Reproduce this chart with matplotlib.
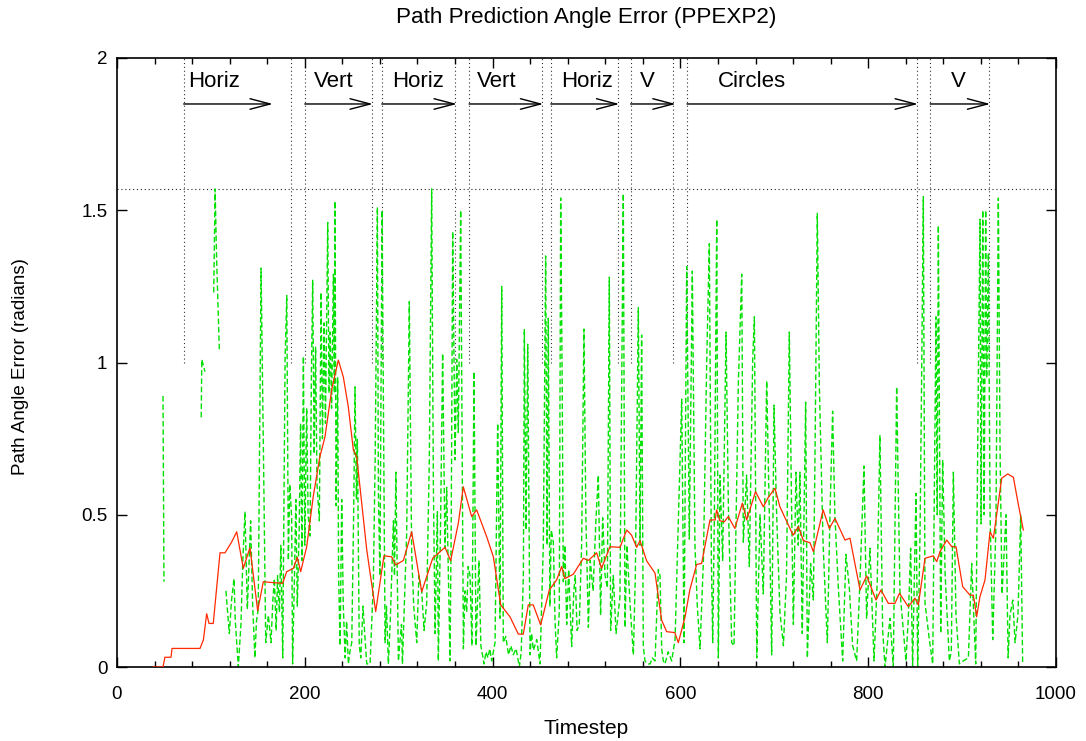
import matplotlib
matplotlib.use('Agg')
import matplotlib.pyplot as plt
import numpy as np
from matplotlib.ticker import MultipleLocator, FixedLocator, FuncFormatter

plt.rcParams['font.family'] = ['Liberation Sans', 'DejaVu Sans']

NaN = np.nan

# ---- smoothed error (red) ----
red_t = [38.7, 49, 51, 57.5, 58.6, 79.5, 88.4, 92, 95.5, 98, 102.5, 109.7, 115, 122, 127.5,
         134.5, 141.6, 149.8, 155.8, 166.5, 176.4, 180.7, 187.8, 192, 195.6, 202, 209, 216,
         221.5, 228.6, 235.7, 241, 246.3, 251.7, 255.3, 266, 275.5, 284.3, 292.5, 296.8, 305,
         313.8, 324.5, 336.2, 349.3, 355.3, 363.5, 368.8, 377.7, 383, 393.7, 400.8, 408.6,
         418.5, 427.4, 432.7, 438, 443.3, 451.2, 460.4, 468.2, 473.6, 477, 486, 496.6, 502,
         510.8, 516, 525, 535.7, 542.8, 548, 553.4, 557, 564, 573, 580, 585.4, 594, 597.8,
         605, 610, 617.3, 622.6, 631.5, 637, 638.6, 642, 646.8, 651, 658, 666, 670.6, 680,
         688.3, 693.6, 700.7, 706, 715, 720, 725.6, 731, 738, 741.6, 752, 758.6, 764.6,
         775.3, 780.6, 791.3, 798.4, 808.3, 813.6, 821.4, 828.5, 833.3, 842.7, 849.8, 853.4,
         860.5, 869.3, 873, 876.5, 883.6, 889, 893.5, 900.6, 908.4, 912, 915.5, 919, 924.4,
         929.7, 933.3, 942.2, 948.6, 954.6, 960, 965.2]
red_v = [0.0, 0.0, 0.032, 0.032, 0.061, 0.061, 0.061, 0.089, 0.175, 0.143, 0.143, 0.375, 0.375,
         0.41, 0.444, 0.324, 0.392, 0.185, 0.28, 0.277, 0.275, 0.313, 0.324, 0.36, 0.313,
         0.395, 0.56, 0.69, 0.756, 0.91, 1.008, 0.953, 0.855, 0.713, 0.69, 0.384, 0.182,
         0.365, 0.362, 0.335, 0.35, 0.444, 0.247, 0.357, 0.393, 0.349, 0.472, 0.592, 0.494,
         0.516, 0.428, 0.362, 0.204, 0.165, 0.108, 0.108, 0.204, 0.204, 0.138, 0.253, 0.286,
         0.33, 0.29, 0.305, 0.357, 0.35, 0.375, 0.324, 0.395, 0.393, 0.45, 0.433, 0.393,
         0.415, 0.349, 0.308, 0.154, 0.116, 0.113, 0.08, 0.165, 0.253, 0.337, 0.34, 0.483,
         0.483, 0.516, 0.48, 0.477, 0.494, 0.455, 0.538, 0.483, 0.576, 0.526, 0.557, 0.587,
         0.526, 0.466, 0.433, 0.461, 0.415, 0.408, 0.379, 0.516, 0.455, 0.488, 0.417, 0.423,
         0.253, 0.299, 0.22, 0.253, 0.209, 0.209, 0.242, 0.198, 0.226, 0.204, 0.357, 0.365,
         0.346, 0.379, 0.417, 0.395, 0.395, 0.264, 0.236, 0.236, 0.165, 0.231, 0.286, 0.444,
         0.423, 0.62, 0.634, 0.623, 0.532, 0.45]

# ---- raw error (green, dashed); NaN = no value ----
green_t = [49, 50, 51, 89.7, 90.3, 93.7, 95, 103, 104.5, 106, 109, 110,
           116, 119.6, 122, 124.6, 126, 129.2, 132, 134, 136.3, 138.8, 140.5, 142.3, 144.5,
           146.9, 148.5, 150.4, 153.4, 155.9, 158.4, 161.2, 164, 166, 167.6, 169.5, 171, 173,
           174.5, 176.5, 179, 180.8, 182.5, 184, 186, 187, 189, 190.5, 192, 194, 195.5, 197,
           198.5, 200, 202, 203.5, 205.6, 207, 208.4, 210, 211.5, 213, 215.5, 217.3, 218.8,
           220.5, 222, 224.4, 225.8, 227, 228.5, 230.5, 231.5, 232.2, 233.3, 235, 236, 237.6,
           239.3, 241, 243, 244.5, 246.4, 248, 250, 252, 253.5, 255, 256, 258, 259.6, 262, 264,
           266, 269.5, 273, 275, 277.3, 278.4, 280, 282.3, 283.7, 285.5, 287, 289, 291, 294.4,
           295.5, 297, 299.7, 301.5, 303, 304, 306, 308.5, 311.3, 313.8, 316, 319.2, 321.5,
           324.5, 327, 329.8, 332.6, 335.1, 336.9, 338.7, 341.2, 342.2, 344.5, 346.8, 349.3,
           351.1, 354.7, 356, 357.5, 360, 361.8, 363.5, 366, 368.9, 370.5, 372.4, 374, 376, 378,
           380.2, 382.3, 385.5, 387.5, 390.9, 393, 395, 397, 399, 402.6, 405.4, 407.9, 409.7,
           411.4, 414, 417, 419.5, 422, 425, 428.5, 430.5, 432.8, 433.8, 435.6, 437.4, 439.9,
           441.5, 443.4, 447, 450.5, 454, 456.5, 458, 459.3, 461, 462.5, 464.7, 466.5, 468.2,
           471, 472.5, 474.2, 475.3, 477, 478.9, 481, 484.2, 486.5, 488, 490, 492.3, 494.8,
           497.3, 499.3, 502, 504, 507, 510, 512.6, 515, 517.2, 519.8, 522.2, 524.3, 525.7,
           528.5, 531.5, 535.6, 539.2, 541, 543, 546.5, 549.9, 552, 555.2, 557, 558.7, 560.5,
           562.3, 565, 567.8, 570, 573, 576.5, 578.3, 580.1, 581.8, 583.6, 587, 590.7, 594.3,
           597.8, 601.4, 603.9, 606.7, 609.5, 612.7, 615.5, 618, 620.9, 624.5, 628, 630.8, 633,
           634.4, 636.2, 638.7, 640.4, 642.2, 645, 648.6, 651.1, 654.6, 657.1, 661.7, 665.3,
           667, 670.5, 673.4, 677, 678.8, 681.3, 684.8, 688.3, 691.9, 694.7, 697.2, 699.7,
           702.5, 706, 709.7, 713, 716, 718.5, 720.3, 723.1, 725.5, 727.3, 729.8, 733.4, 735.2,
           738.7, 741.6, 743.3, 745.8, 748, 752, 756.5, 759.3, 762.1, 764.5, 768.2, 772.8,
           776.3, 779.9, 783.4, 787.7, 791.2, 795.5, 798.3, 801.9, 806.2, 809.6, 812.5, 815.4,
           817.9, 823.2, 826.7, 830.3, 833.8, 840.2, 842.7, 845.2, 847.3, 850.9, 852.7, 855.2,
           856.9, 858.7, 860.5, 865.1, 868.7, 872.2, 873.5, 874.7, 877.2, 879.3, 882, 886.4,
           888.5, 890.7, 893.5, 897.1, 901.2, 906.7, 910.2, 914.5, 917.3, 919.1, 920.2, 922,
           923.5, 925.1, 926.2, 928, 929.8, 932.6, 936, 938.6, 940.4, 942.5, 946.8, 949, 951,
           954, 956.4, 959.5, 962.4, 964.5]
green_v = [0.89, 0.28, NaN, 0.82, 1.01, 0.97, NaN, 1.23, 1.57, 1.35, 1.04, NaN,
           0.25, 0.11, 0.22, 0.29, 0.15, 0.0, 0.14, 0.35, 0.51, 0.19, 0.33, 0.48, 0.2,
           0.03, 0.15, 0.19, 1.31, 0.72, 0.08, 0.17, 0.08, 0.22, 0.29, 0.12, 0.30, 0.18,
           0.4, 0.03, 1.01, 1.22, 0.35, 0.6, 0.49, 0.01, 0.3, 0.55, 0.2, 0.45, 0.8, 0.35,
           1.02, 0.4, 0.85, 0.5, 0.43, 0.95, 1.27, 0.7, 1.05, 0.6, 0.48, 1.23, 0.75,
           1.13, 0.8, 1.46, 0.9, 1.10, 0.85, 1.29, 0.9, 1.53, 0.53, 0.95, 0.3, 0.07,
           0.55, 0.2, 0.03, 0.15, 0.01, 0.05, 0.08, 0.5, 0.92, 0.55, 0.75, 0.07, 0.03, 0.2, 0.1,
           0.01, 0.01, 0.28, 0.7, 1.51, 0.57, 0.3, 1.50, 0.89, 0.08, 0.2, 0.01, 0.15, 0.48,
           0.3, 0.64, 0.02, 0.09, 0.14, 0.01, 0.2, 0.44, 1.20, 0.38, 0.2, 0.08, 0.3,
           0.25, 0.12, 0.21, 0.68, 1.57, 0.61, 0.11, 0.51, 0.02, 0.45, 1.03, 0.39,
           0.59, 0.02, 0.5, 1.43, 0.68, 1.01, 0.77, 1.50, 0.06, 0.25, 0.18, 0.33, 0.30, 0.07,
           0.97, 0.07, 0.35, 0.07, 0.01, 0.05, 0.03, 0.06, 0.02, 0.08, 0.80, 0.16, 1.25,
           0.08, 0.1, 0.04, 0.07, 0.04, 0.06, 0.0, 0.05, 0.31, 1.11, 0.45, 1.06, 0.04,
           0.11, 0.055, 0.09, 0.01, 0.40, 1.35, 0.4, 1.145, 0.20, 0.45, 0.41, 0.15, 0.03,
           0.18, 1.54, 0.89, 0.28, 0.4, 0.14, 0.32, 0.067, 0.25, 0.3, 0.12, 0.14, 0.4,
           1.11, 0.5, 0.13, 0.35, 0.25, 0.48, 0.63, 0.17, 0.49, 0.3, 0.26, 1.28, 0.12,
           0.3, 0.11, 0.23, 1.555, 0.13, 0.4, 0.2, 0.04, 0.3, 1.18, 0.4, 1.09, 0.067,
           0.02, 0.01, 0.01, 0.03, 0.02, 0.32, 0.30, 0.06, 0.02, 0.01, 0.05, 0.02, 0.09,
           0.48, 0.88, 0.08, 1.315, 0.42, 1.30, 0.4, 0.2, 0.06, 0.35, 1.0, 1.39, 0.35,
           0.08, 0.5, 1.47, 0.03, 0.63, 0.35, 1.10, 0.53, 0.08, 0.07, 0.93, 1.29,
           0.41, 0.63, 0.33, 1.01, 1.15, 0.03, 0.5, 0.24, 0.94, 0.5, 0.04, 0.86,
           0.5, 0.18, 0.07, 0.3, 1.10, 0.5, 0.14, 0.64, 0.4, 0.64, 0.11, 0.87, 0.03,
           0.34, 0.22, 0.68, 1.49, 0.92, 0.4, 0.08, 0.5, 0.84, 0.5, 0.26, 0.02,
           0.37, 0.26, 0.07, 0.02, 0.28, 0.66, 0.16, 0.39, 0.02, 0.28, 0.76, 0.12,
           0.0, 0.16, 0.0, 0.92, 0.25, 0.02, 0.16, 0.39, 0.0, 0.57, 0.0, 0.44,
           0.95, 1.545, 0.21, 0.09, 0.01, 1.15, 0.5, 1.45, 0.11, 0.68, 0.3, 0.02,
           0.05, 0.64, 0.17, 0.01, 0.02, 0.03, 0.34, 0.01, 0.95, 1.47, 0.47, 1.50,
           0.5, 1.50, 0.95, 1.36, 0.5, 0.09, 0.46, 1.54, 0.72, 0.24, 0.50, 0.03, 0.17,
           0.22, 0.08, 0.17, 0.50, 0.01]

# ---- segment annotations ----
seg_labels = ["Horiz", "Vert", "Horiz", "Vert", "Horiz", "V", "Circles", "V"]
seg_start = [71, 200, 282, 375, 462, 547, 607, 866]
seg_end = [185, 272, 360, 453, 534, 592, 852, 929]
seg_arrow_end = [166, 272.5, 362, 454, 535, 595, 853, 930]
seg_label_x = [76, 209.5, 293, 383.5, 473, 556.5, 639.5, 888.5]

x_ticks = [0, 200, 400, 600, 800, 1000]
y_ticks = [0, 0.5, 1, 1.5, 2]

FS_TICK = 13.5
FS_SEG = 16
FS_TITLE = 16.2
FS_XLAB = 15
FS_YLAB = 13.5

fig = plt.figure(figsize=(10.86, 7.41), dpi=100)
W, H = 1086, 741
L, R, T, B = 117, 1056, 58, 667
ax = fig.add_axes([L / W, 1 - B / H, (R - L) / W, (B - T) / H])

ax.plot(red_t, red_v, color='#ff2a00', lw=0.9, zorder=3)
ax.plot(green_t, green_v, color='#00e000', lw=1.0, dashes=(4, 2), zorder=2)

# pi/2 reference line
ax.axhline(np.pi / 2, color='#222222', lw=0.8, linestyle=(0, (1, 2.5)), zorder=1)

# segment boundaries, arrows and labels
for s, e, ae, lab, lx in zip(seg_start, seg_end, seg_arrow_end, seg_labels, seg_label_x):
    for xv in (s, e):
        ax.plot([xv, xv], [1.0, 2.0], color='#333333', lw=0.8,
                linestyle=(0, (1, 2.5)), zorder=1)
    ax.annotate('', xy=(ae, 1.849), xytext=(s, 1.849),
                arrowprops=dict(arrowstyle='->,head_length=1.45,head_width=0.38',
                                lw=1.0, color='black', shrinkA=0, shrinkB=0,
                                mutation_scale=10))
    ax.text(lx, 1.906, lab, fontsize=FS_SEG, ha='left', va='baseline')

ax.set_xlim(0, 1000)
ax.set_ylim(0, 2)
ax.xaxis.set_major_locator(FixedLocator(x_ticks))
ax.xaxis.set_minor_locator(MultipleLocator(40))
ax.yaxis.set_major_locator(FixedLocator(y_ticks))
ax.yaxis.set_major_formatter(FuncFormatter(lambda v, p: '%g' % v))
ax.tick_params(which='both', direction='in', top=True, right=True, width=1.0)
ax.tick_params(which='major', length=7, labelsize=FS_TICK)
ax.tick_params(which='minor', length=4)
ax.tick_params(axis='x', pad=14)
ax.tick_params(axis='y', pad=7)
for sp in ax.spines.values():
    sp.set_linewidth(1.2)

fig.text((L + R) / 2 / W, 1 - 18 / H, 'Path Prediction Angle Error (PPEXP2)',
         fontsize=FS_TITLE, ha='center', va='center')
fig.text((L + R) / 2 / W, 1 - 729 / H, 'Timestep', fontsize=FS_XLAB,
         ha='center', va='center')
fig.text(21 / W, 1 - ((T + B) / 2 + 4) / H, 'Path Angle Error (radians)',
         fontsize=FS_YLAB, ha='center', va='center', rotation=90)

fig.savefig('out.png', dpi=100)
